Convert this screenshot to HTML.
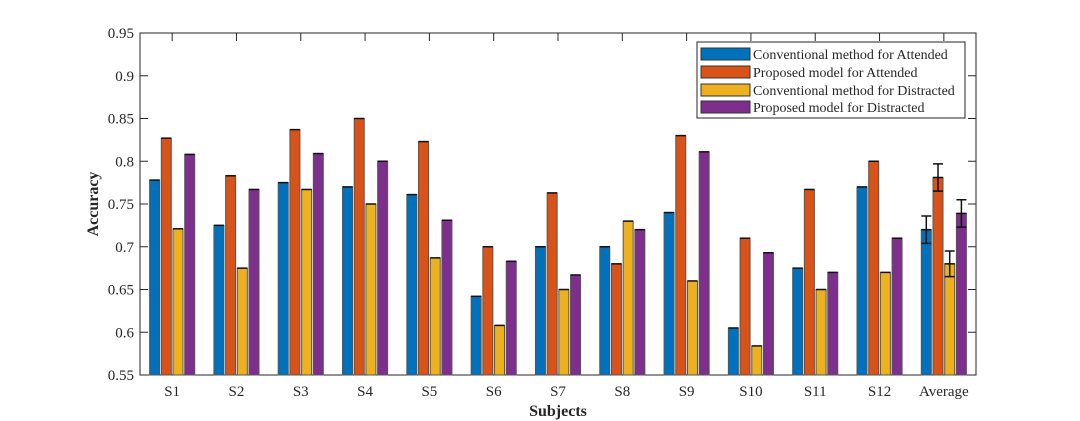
<!DOCTYPE html>
<html><head><meta charset="utf-8">
<style>
html,body{margin:0;padding:0;background:#fff;}
svg{display:block;font-family:"Liberation Serif",serif;}
</style></head>
<body>
<svg id="chart" width="1080" height="421" viewBox="0 0 1080 421" xmlns="http://www.w3.org/2000/svg"></svg>
<script>
const categories = ["S1","S2","S3","S4","S5","S6","S7","S8","S9","S10","S11","S12","Average"];
const convAttended = [0.778,0.725,0.775,0.770,0.761,0.642,0.700,0.700,0.740,0.605,0.675,0.770,0.720];
const propAttended = [0.827,0.783,0.837,0.850,0.823,0.700,0.763,0.680,0.830,0.710,0.767,0.800,0.781];
const convDistracted = [0.721,0.675,0.767,0.750,0.687,0.608,0.650,0.730,0.660,0.584,0.650,0.670,0.680];
const propDistracted = [0.808,0.767,0.809,0.800,0.731,0.683,0.667,0.720,0.811,0.693,0.670,0.710,0.739];
const averageErrors = [0.016,0.016,0.015,0.016];
const yTicks = [0.55,0.6,0.65,0.7,0.75,0.8,0.85,0.9,0.95];
const yTickLabels = ["0.55","0.6","0.65","0.7","0.75","0.8","0.85","0.9","0.95"];
const seriesNames = ["Conventional method for Attended","Proposed model for Attended","Conventional method for Distracted","Proposed model for Distracted"];

const svg = document.getElementById('chart');
const NS = "http://www.w3.org/2000/svg";
const L=140,R=976,T=33,B=375;
const yMin=0.55,yMax=0.95;
const y = v => B - (v-yMin)/(yMax-yMin)*(B-T);
const x = i => L + (i+0.5)*(R-L)/categories.length;
function mk(tag, attrs){const e=document.createElementNS(NS,tag);for(const k in attrs)e.setAttribute(k,attrs[k]);svg.appendChild(e);return e;}

const colors=["#0072BD","#D95319","#EDB120","#7E2F8E"];
const series=[convAttended,propAttended,convDistracted,propDistracted];
const keys=["conv-attended","prop-attended","conv-distracted","prop-distracted"];
const pitch=11.7, bw=10;

// axes box
const box = mk('rect',{x:L,y:T,width:R-L,height:B-T,fill:'none',stroke:'#262626','stroke-width':1});



// y ticks
yTicks.forEach((v,i)=>{
  const yy=y(v);
  const t1=mk('line',{x1:L,x2:L+8,y1:yy,y2:yy,stroke:'#262626'});
  
  
  mk('line',{x1:R,x2:R-8,y1:yy,y2:yy,stroke:'#262626'});
  const tx=mk('text',{x:L-6,y:yy+5,'text-anchor':'end','font-size':15,fill:'#262626'});
  tx.textContent=yTickLabels[i];
  
  
});

// bars
categories.forEach((c,i)=>{
  const cx=x(i);
  mk('line',{x1:cx,x2:cx,y1:T,y2:T+8,stroke:'#262626'});
  series.forEach((s,j)=>{
    const bx=cx+(j-1.5)*pitch-bw/2;
    const r=mk('rect',{x:bx,y:y(s[i]),width:bw,height:B-y(s[i]),fill:colors[j],stroke:'#555','stroke-width':1});
    
    
    mk('line',{x1:bx,x2:bx+bw,y1:y(s[i]),y2:y(s[i]),stroke:'#111','stroke-width':1.5});
    if(c==="Average"){
      const e=averageErrors[j], mx=bx+bw/2;
      const g=mk('path',{d:`M${mx},${y(s[i]+e)}V${y(s[i]-e)}M${mx-5},${y(s[i]+e)}H${mx+5}M${mx-5},${y(s[i]-e)}H${mx+5}`,stroke:'#111','stroke-width':1.5,fill:'none'});
      
      
    }
  });
  const tx=mk('text',{x:cx,y:B+21,'text-anchor':'middle','font-size':15,fill:'#262626'});
  tx.textContent=c;
  
  
});

// axis titles
const xt=mk('text',{x:(L+R)/2,y:416,'text-anchor':'middle','font-size':16,'font-weight':'bold',fill:'#262626'});
xt.textContent="Subjects";


const yt=mk('text',{x:0,y:0,'text-anchor':'middle','font-size':16,'font-weight':'bold',fill:'#262626',transform:`translate(98,${(T+B)/2}) rotate(-90)`});
yt.textContent="Accuracy";



// legend
const lg=mk('rect',{x:697,y:42,width:268,height:76,fill:'#fff',stroke:'#262626','stroke-width':1});


const rows=[54,72,90,107];
seriesNames.forEach((n,j)=>{
  const sw=mk('rect',{x:701,y:rows[j]-6,width:49,height:12,fill:colors[j],stroke:'#333','stroke-width':1});
  
  
  const t=mk('text',{x:753,y:rows[j]+5,'font-size':14,fill:'#262626'});
  t.textContent=n;
  
  
});
</script>
</body></html>
